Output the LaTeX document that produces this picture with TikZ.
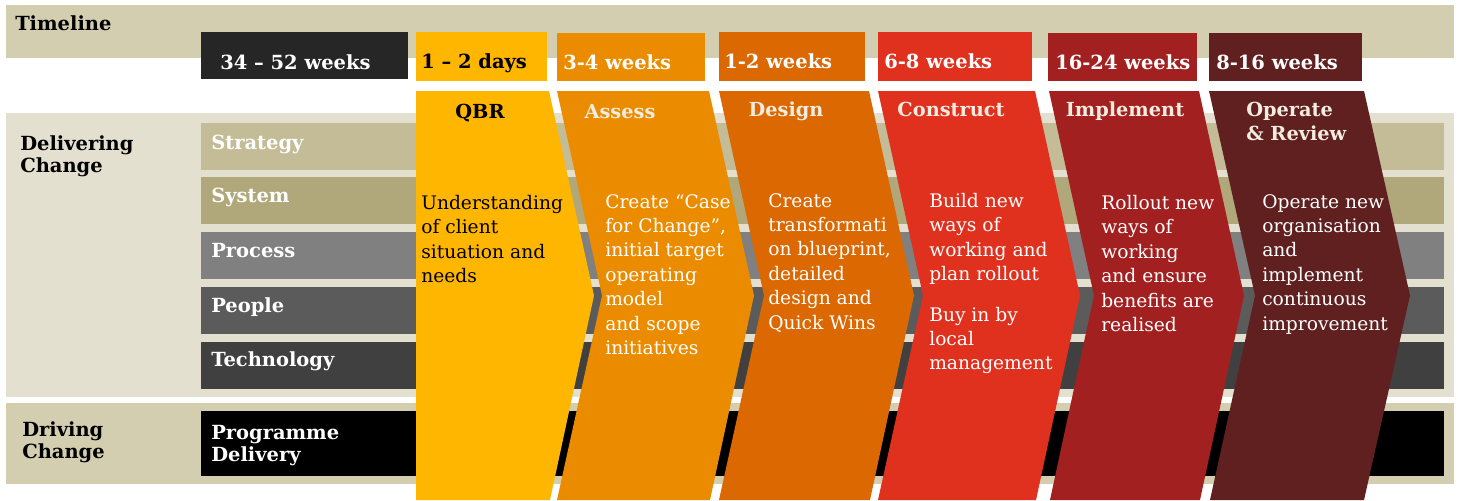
\documentclass[tikz,border=0pt]{standalone}
\usepackage{fontspec}
\setmainfont{DejaVu Serif}
\definecolor{tlband}{HTML}{D4CEB1}
\definecolor{dlband}{HTML}{E3E0D0}
\definecolor{cstrat}{HTML}{C4BC97}
\definecolor{csys}{HTML}{B0A87A}
\definecolor{cproc}{HTML}{808080}
\definecolor{cpeop}{HTML}{5B5B5B}
\definecolor{ctech}{HTML}{404040}
\definecolor{cdark}{HTML}{262626}
\definecolor{cqbr}{HTML}{FFB600}
\definecolor{cass}{HTML}{EB8C00}
\definecolor{cdes}{HTML}{DB6800}
\definecolor{ccon}{HTML}{E0301E}
\definecolor{cimp}{HTML}{A32020}
\definecolor{cope}{HTML}{602020}
\definecolor{ctitle}{HTML}{F3ECDF}
\begin{document}
\begin{tikzpicture}[x=0.75pt,y={(0,-0.75pt)},
  lbl/.style={font=\fontsize{14.6}{16.5}\selectfont\bfseries, inner sep=0, anchor=base west, align=left},
  wlbl/.style={lbl, text=white},
  durlbl/.style={lbl, font=\fontsize{14.6}{16.5}\selectfont\bfseries},
  ttl/.style={font=\fontsize{14.5}{18}\selectfont\bfseries, inner sep=0, anchor=base, text=ctitle},
  body/.style={font=\fontsize{14}{18.3}\selectfont, inner sep=0, anchor=north west, align=left, text=white}]
\useasboundingbox (0,0) rectangle (1458,500);
\fill[white] (0,0) rectangle (1458,500);
% bands
\fill[tlband] (6,5) rectangle (1454,58);
\fill[dlband] (6,113) rectangle (1454,397);
\fill[tlband] (6,403) rectangle (1454,484);
% rows
\fill[cstrat] (201,123) rectangle (1444,170);
\fill[csys] (201,177) rectangle (1444,224);
\fill[cproc] (201,232) rectangle (1444,279);
\fill[cpeop] (201,287) rectangle (1444,334);
\fill[ctech] (201,342) rectangle (1444,389);
\fill[black] (201,411) rectangle (1444,476);
% chevrons
\fill[cqbr] (416,91) -- (549,91) -- (594,295.5) -- (550,500) -- (416,500) -- cycle;
\fill[cass] (557,91) -- (709,91) -- (754,295.5) -- (710,500) -- (557,500) -- (602,295.5) -- cycle;
\fill[cdes] (719,91) -- (869,91) -- (914,295.5) -- (870,500) -- (719,500) -- (764,295.5) -- cycle;
\fill[ccon] (878,91) -- (1035,91) -- (1080,295.5) -- (1036,500) -- (878,500) -- (923,295.5) -- cycle;
\fill[cimp] (1049,91) -- (1199,91) -- (1244,295.5) -- (1200,500) -- (1050,500) -- (1094,295.5) -- cycle;
\fill[cope] (1209,91) -- (1364,91) -- (1410,295.5) -- (1364,500) -- (1210,500) -- (1255,295.5) -- cycle;
% duration boxes
\fill[cdark] (201,32) rectangle (408,79);
\fill[cqbr] (416,32) rectangle (547,81);
\fill[cass] (557,33) rectangle (705,81);
\fill[cdes] (719,32) rectangle (865,81);
\fill[ccon] (878,32) rectangle (1032,81);
\fill[cimp] (1048,33) rectangle (1197,81);
\fill[cope] (1209,33) rectangle (1362,81);
% left labels
\node[lbl] (timeline) at (15,30) {Timeline};
\node[lbl] (delivering) at (20,172) {Delivering\\Change};
\node[lbl] (driving) at (22,458) {Driving\\Change};
\node[wlbl] (strategy) at (211,149) {Strategy};
\node[wlbl] (system) at (211,202) {System};
\node[wlbl] (process) at (211,257) {Process};
\node[wlbl] (people) at (211,312) {People};
\node[wlbl] (technology) at (211,366) {Technology};
\node[wlbl] (programme) at (211,461) {Programme\\Delivery};
% durations
\node[durlbl, text=white] (d0) at (220,69) {34 – 52 weeks};
\node[durlbl] (d1) at (421,68) {1 – 2 days};
\node[durlbl, text=white] (d2) at (563,69) {3-4 weeks};
\node[durlbl, text=white] (d3) at (724,68) {1-2 weeks};
\node[durlbl, text=white] (d4) at (884,68) {6-8 weeks};
\node[durlbl, text=white] (d5) at (1055,69) {16-24 weeks};
\node[durlbl, text=white] (d6) at (1216,69) {8-16 weeks};
% titles
\node[ttl, text=black] (tqbr) at (480,118) {QBR};
\node[ttl] (tass) at (620,118) {Assess};
\node[ttl] (tdes) at (786,116) {Design};
\node[ttl] (tcon) at (951,116) {Construct};
\node[ttl] (timp) at (1125,116) {Implement};
\node[ttl, anchor=base west, align=left] (tope) at (1246,140) {Operate\\\&~Review};
% bodies
\node[body, text=black] (bqbr) at (421,195) {Understanding\\of client\\situation and\\needs};
\node[body] (bass) at (605,194) {Create “Case\\for Change”,\\initial target\\operating\\model\\and scope\\initiatives};
\node[body] (bdes) at (768,193) {Create\\transformati\\on blueprint,\\detailed\\design and\\Quick Wins};
\node[body] (bcon) at (929,193) {Build new\\ways of\\working and\\plan rollout\\[12pt]Buy in by\\local\\management};
\node[body] (bimp) at (1101,195) {Rollout new\\ways of\\working\\and ensure\\benefits are\\realised};
\node[body] (bope) at (1262,194) {Operate new\\organisation\\and\\implement\\continuous\\improvement};
\end{tikzpicture}
\end{document}
